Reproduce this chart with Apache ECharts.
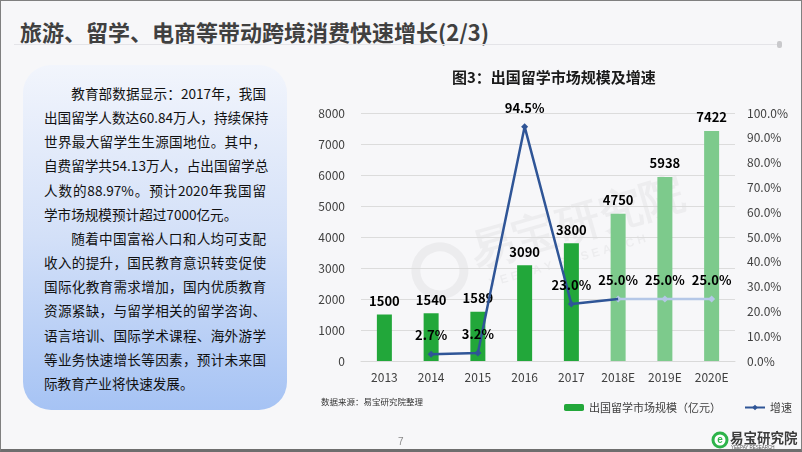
<!DOCTYPE html>
<html><head><meta charset="utf-8">
<script src="https://cdn.jsdelivr.net/npm/echarts@6/dist/echarts.min.js"></script>
<style>
html,body{margin:0;padding:0;width:802px;height:452px;overflow:hidden;background:#F7F7F9;font-family:"Noto Sans CJK SC",sans-serif;}
#frame{position:absolute;left:0;top:0;width:802px;height:452px;box-sizing:border-box;border:1px solid #808080;border-bottom:3px solid #6e6e6e;z-index:5;pointer-events:none}
#title{position:absolute;left:20px;top:14px;font-size:22px;font-weight:bold;color:#404040;white-space:nowrap;line-height:34px}
#rule{position:absolute;left:14px;top:44px;width:764px;height:1px;background:#E4E4E8}
#dot{position:absolute;left:777px;top:41px;width:5px;height:7px;border-radius:2px;background:#C9C9CC}
#box{position:absolute;left:23px;top:65px;width:264px;height:345px;border-radius:28px;background:linear-gradient(to bottom,#F2F5FC 0%,#D3E0F8 50%,#A6C3F4 100%);box-sizing:border-box;padding:16px 21px 0 21px;font-size:13.6px;line-height:24.17px;color:#111}
#box .l{white-space:nowrap;text-align:justify;text-align-last:justify;height:24.17px}
#box .l.e{text-align-last:left}
#box .l.i{text-indent:2em}
#chart{position:absolute;left:0;top:0;width:802px;height:452px;z-index:2}
</style></head>
<body>
<div id="title">旅游、留学、电商等带动跨境消费快速增长(2/3)</div>
<div id="rule"></div><div id="dot"></div>
<div id="box">
<div class="l i">教育部数据显示：2017年，我国</div>
<div class="l">出国留学人数达60.84万人，持续保持</div>
<div class="l">世界最大留学生生源国地位。其中，</div>
<div class="l">自费留学共54.13万人，占出国留学总</div>
<div class="l">人数的88.97%。预计2020年我国留</div>
<div class="l e">学市场规模预计超过7000亿元。</div>
<div class="l i">随着中国富裕人口和人均可支配</div>
<div class="l">收入的提升，国民教育意识转变促使</div>
<div class="l">国际化教育需求增加，国内优质教育</div>
<div class="l">资源紧缺，与留学相关的留学咨询、</div>
<div class="l">语言培训、国际学术课程、海外游学</div>
<div class="l">等业务快速增长等因素，预计未来国</div>
<div class="l e">际教育产业将快速发展。</div>
</div>
<div id="chart"></div>
<div id="frame"></div>
<script>
// ---- data ----
const categories = ['2013', '2014', '2015', '2016', '2017', '2018E', '2019E', '2020E'];
const marketSize = [1500, 1540, 1589, 3090, 3800, 4750, 5938, 7422];
const growthRate = [null, 2.7, 3.2, 94.5, 23.0, 25.0, 25.0, 25.0];
const forecastStart = 5; // index of first forecast category
const leftTicks = { min: 0, max: 8000, interval: 1000 };
const rightTicks = { min: 0, max: 100, interval: 10 };
const barName = '出国留学市场规模（亿元）';
const lineName = '增速';

const DARK_GREEN = '#22A73A', LIGHT_GREEN = '#7DCA8C';
const DARK_BLUE = '#2F5597', LIGHT_BLUE = '#B4C7E7';
const FONT = '"Noto Sans CJK SC", sans-serif';

const barData = marketSize.map((v, i) => i >= forecastStart ? { value: v, itemStyle: { color: LIGHT_GREEN } } : v);
const lineActual = growthRate.map((v, i) => {
  if (i < forecastStart) return v;
  if (i === forecastStart) return { value: v, symbol: 'none', label: { show: false } };
  return null;
});
const lineForecast = growthRate.map((v, i) => i >= forecastStart ? v : null);

const pctLabel = { show: true, position: 'top', distance: 9, fontSize: 13, fontWeight: 'bold', color: '#000', fontFamily: FONT,
  formatter: p => (p.value == null ? '' : Number(p.value).toFixed(1) + '%') };

const chart = echarts.init(document.getElementById('chart'), null, { renderer: 'canvas' });
chart.setOption({
  animation: false,
  backgroundColor: 'transparent',
  textStyle: { fontFamily: FONT },
  grid: { left: 361, right: 67, top: 113, bottom: 91 },
  legend: {
    data: [barName, lineName], left: 559, top: 397, itemWidth: 20, itemHeight: 7, itemGap: 23,
    textStyle: { fontSize: 11, color: '#404040', fontFamily: FONT }
  },
  xAxis: {
    type: 'category', data: categories,
    axisLine: { lineStyle: { color: '#D9D9D9' } }, axisTick: { show: false },
    axisLabel: { color: '#404040', fontSize: 12, margin: 10 }
  },
  yAxis: [
    { type: 'value', min: leftTicks.min, max: leftTicks.max, interval: leftTicks.interval,
      axisLine: { show: false }, axisTick: { show: false },
      axisLabel: { color: '#404040', fontSize: 12, margin: 16, formatter: v => String(v) },
      splitLine: { lineStyle: { color: '#DCDCDC' } } },
    { type: 'value', min: rightTicks.min, max: rightTicks.max, interval: rightTicks.interval, position: 'right',
      axisLine: { show: false }, axisTick: { show: false },
      axisLabel: { color: '#404040', fontSize: 12, margin: 12, formatter: v => v.toFixed(1) + '%' },
      splitLine: { show: false } }
  ],
  series: [
    { name: barName, type: 'bar', data: barData, barWidth: 15, itemStyle: { color: DARK_GREEN },
      label: { show: true, position: 'top', distance: 7, fontSize: 13, fontWeight: 'bold', color: '#000' }, z: 2 },
    { name: lineName, type: 'line', yAxisIndex: 1, data: lineActual, connectNulls: false,
      symbol: 'diamond', symbolSize: 7, itemStyle: { color: DARK_BLUE }, lineStyle: { color: DARK_BLUE, width: 2.5 },
      label: pctLabel, z: 4 },
    { name: lineName + '（预测）', type: 'line', yAxisIndex: 1, data: lineForecast,
      symbol: 'diamond', symbolSize: 7, itemStyle: { color: LIGHT_BLUE }, lineStyle: { color: LIGHT_BLUE, width: 2.5 },
      label: pctLabel, z: 3 }
  ],
  graphic: [
    { type: 'text', left: 452, top: 70, style: { text: '图3：出国留学市场规模及增速', fontSize: 15, fontWeight: 'bold', fill: '#1a1a1a', fontFamily: FONT } },
    { type: 'text', left: 321, top: 398, style: { text: '数据来源：易宝研究院整理', fontSize: 8.5, fill: '#333', fontFamily: FONT } },
    { type: 'text', left: 398, top: 437, style: { text: '7', fontSize: 10, fill: '#8a8a8a' } },
    // watermark
    { type: 'group', x: 430, y: 280, rotation: 0.28, z: -1, children: [
      { type: 'circle', shape: { cx: 12, cy: -6, r: 24 }, style: { fill: 'none', stroke: 'rgba(0,0,0,0.045)', lineWidth: 9 } },
      { type: 'text', x: 48, y: -34, style: { text: '易宝研究院', fontSize: 44, fontWeight: 'bold', fill: 'rgba(0,0,0,0.04)' } },
      { type: 'text', x: 56, y: 14, style: { text: 'Y E E P A Y  R E S E A R C H', fontSize: 12, fontWeight: 'bold', fill: 'rgba(0,0,0,0.045)' } }
    ] },
    // logo
    { type: 'circle', shape: { cx: 720, cy: 440, r: 7 }, style: { fill: '#fff', stroke: '#2DB34A', lineWidth: 3 } },
    { type: 'text', x: 720, y: 440, style: { text: 'e', fontSize: 10, fontWeight: 'bold', fill: '#2DB34A', align: 'center', verticalAlign: 'middle' } },
    { type: 'text', x: 730, y: 431, style: { text: '易宝研究院', fontSize: 13.5, fontWeight: 'bold', fill: '#3c3c3c', fontFamily: FONT } },
    { type: 'text', x: 731, y: 445.5, style: { text: 'YEEPAY RESEARCH', fontSize: 4.5, fill: '#555' } }
  ]
});
</script>
</body></html>
